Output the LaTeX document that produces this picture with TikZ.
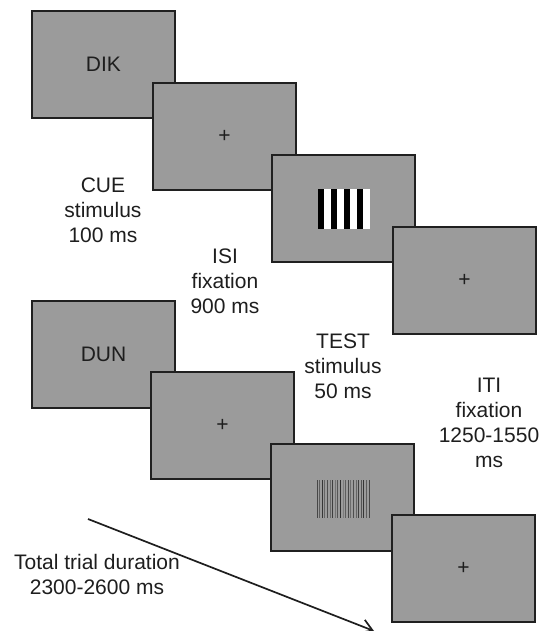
\documentclass[tikz,border=0pt]{standalone}
\usepackage{fontspec}
\setmainfont{Liberation Sans}
\usetikzlibrary{arrows.meta}
\definecolor{scr}{HTML}{9B9B9B}
\definecolor{edge}{HTML}{202020}
\definecolor{ink}{HTML}{1E1E1E}
\begin{document}
\begin{tikzpicture}[x=1pt,y=-1pt,
  screen/.style={draw=edge,fill=scr,line width=2.8pt,minimum width=143pt,minimum height=107pt,inner sep=0pt,font=\fontsize{21}{25}\selectfont,text=ink},
  lbl/.style={align=center,font=\fontsize{21}{25}\selectfont,text=ink,inner sep=0pt},
  arr/.style={line width=1.7pt,draw=ink,-{Straight Barb[length=11pt,width=14pt,line width=1.7pt]}}]
\useasboundingbox (0,0) rectangle (543,631);
% first trial
\node[screen] (b1) at (103.5,64.5) {DIK};
\node[screen] (b2) at (224.5,136.5) {+};
\node[screen] (b3) at (343.5,208.5) {};
\node[screen] (b4) at (464.5,280.5) {+};
% high contrast grating
\begin{scope}[shift={(b3.center)}]
  \fill[white] (-26,-20) rectangle (26,20);
  \foreach \i in {0,...,3} \fill[black] (-26+13*\i,-20) rectangle ++(6.5,40);
\end{scope}
% second trial
\node[screen] (b5) at (103.5,354.5) {DUN};
\node[screen] (b6) at (222.5,425.5) {+};
\node[screen] (b7) at (342.5,497.5) {};
\node[screen] (b8) at (463.5,568.5) {+};
% low contrast grating
\begin{scope}[shift={(b7.center)}]
  \foreach \g [count=\i from 0] in {55,40,65,35,50,30,60,25,45,70,20,40,55,30,50,35,60,45,65,40,55}
    \fill[black!\g!scr] (-26+2.6*\i,-18) rectangle ++(1.1,38);
\end{scope}
% labels
\node[lbl] (l1) at (103,210) {CUE\\stimulus\\100 ms};
\node[lbl] (l2) at (225,281) {ISI\\fixation\\900 ms};
\node[lbl] (l3) at (343,366) {TEST\\stimulus\\50 ms};
\node[lbl] (l4) at (489,422.5) {ITI\\fixation\\1250-1550\\ms};
\node[lbl] (l5) at (97,574) {Total trial duration\\2300-2600 ms};
% arrow
\coordinate (a0) at (88,519);
\coordinate (a1) at (374,631);
\draw[arr] (a0) -- (a1);
\end{tikzpicture}
\end{document}
